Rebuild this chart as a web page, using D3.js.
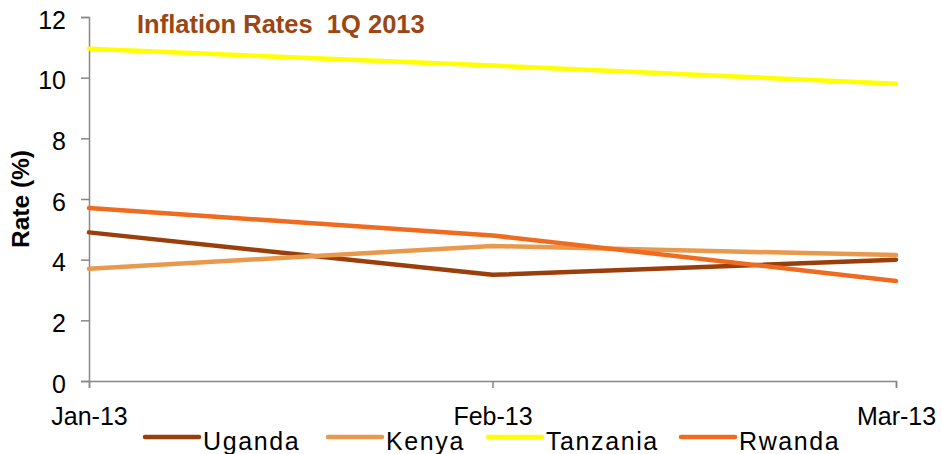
<!DOCTYPE html>
<html>
<head>
<meta charset="utf-8">
<script src="https://cdn.jsdelivr.net/npm/d3@7"></script>
<style>
  body { margin: 0; background: #fff; }
  svg text { font-family: "Liberation Sans", Arial, sans-serif; }
</style>
</head>
<body>
<div id="chart"></div>
<script>

// CHART DATA
var months = ['Jan-13', 'Feb-13', 'Mar-13'];
var countries = ['Uganda', 'Kenya', 'Tanzania', 'Rwanda'];
var uganda = [4.9, 3.5, 4.0];
var kenya = [3.7, 4.45, 4.15];
var tanzania = [10.95, 10.4, 9.8];
var rwanda = [5.7, 4.8, 3.3];
var yTicks = [0, 2, 4, 6, 8, 10, 12];
var colors = ['#9a3f0c', '#e8994c', '#ffff00', '#ef6b20'];

var series = [uganda, kenya, tanzania, rwanda];

// CANVAS
var width = 942, height = 454;
var svg = d3.select('#chart').append('svg')
   .attr('width', width)
   .attr('height', height);

// SCALES
var xScale = d3.scalePoint()
   .domain(months)
   .range([89, 896]);

var yScale = d3.scaleLinear()
   .domain([0, 12])
   .range([381, 17]);

// Y AXIS
var yAxis = svg.append('g')
   .attr('transform', 'translate(89,0)')
   .call(d3.axisLeft(yScale).tickValues(yTicks).tickSize(8).tickPadding(15));

yAxis.selectAll('text')
   .attr('font-size', 25)
   .attr('dy', '0.45em')
   .attr('fill', '#000');

// X AXIS
var xAxis = svg.append('g')
   .attr('transform', 'translate(0,381)')
   .call(d3.axisBottom(xScale).tickSize(7).tickPadding(19));

xAxis.selectAll('text')
   .attr('font-size', 25)
   .attr('fill', '#000');

svg.selectAll('.domain, .tick line')
   .attr('stroke', '#878787')
   .attr('stroke-width', 1.5);

// AXIS TITLE
svg.append('text')
   .attr('transform', 'translate(29,199) rotate(-90)')
   .attr('text-anchor', 'middle')
   .attr('font-size', 24.5)
   .attr('font-weight', 'bold')
   .text('Rate (%)');

// CHART TITLE
svg.append('text')
   .attr('x', 137)
   .attr('y', 33)
   .attr('font-size', 25.5)
   .attr('font-weight', 'bold')
   .attr('fill', '#9c4613')
   .attr('xml:space', 'preserve')
   .text('Inflation Rates  1Q 2013');

// LINES
var pathify = d3.line()
   .x((d, i) => { return xScale(months[i]) })
   .y((d) => { return yScale(d) });

svg.selectAll('.series')
   .data(series)
   .enter().append('path')
      .attr('class', 'series')
      .attr('fill', 'none')
      .attr('stroke', (d, i) => { return colors[i] })
      .attr('stroke-width', 4.5)
      .attr('stroke-linecap', 'round')
      .attr('stroke-linejoin', 'round')
      .attr('d', pathify);

// LEGEND
var legendX = [145, 328, 488, 681];
var legend = svg.selectAll('.legend')
   .data(countries)
   .enter().append('g')
      .attr('class', 'legend')
      .attr('transform', (d, i) => { return 'translate(' + legendX[i] + ',437)' });

legend.append('line')
   .attr('x1', 0)
   .attr('x2', 54)
   .attr('stroke', (d, i) => { return colors[i] })
   .attr('stroke-width', 4.5)
   .attr('stroke-linecap', 'round');

legend.append('text')
   .attr('x', 58)
   .attr('y', 13)
   .attr('font-size', 25)
   .attr('letter-spacing', 1.6)
   .text((d) => { return d });

</script>
</body>
</html>
